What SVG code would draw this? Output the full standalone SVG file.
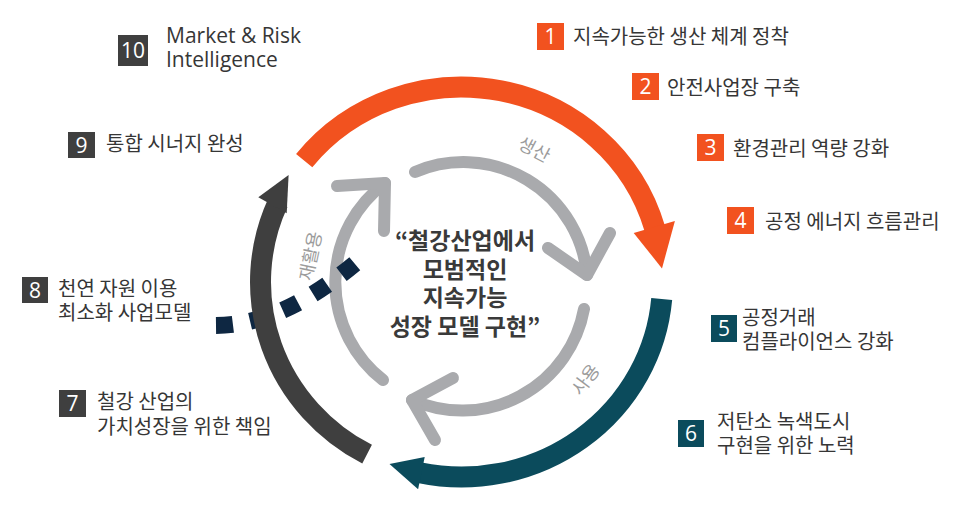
<svg xmlns="http://www.w3.org/2000/svg" width="960" height="509" viewBox="0 0 960 509">
<style>
.lbl{font-family:"Noto Sans CJK KR","Noto Sans",sans-serif;font-size:20px;fill:#363636}
.en{font-family:"Open Sans","Noto Sans",sans-serif;font-size:21px;fill:#363636}
.num{font-family:"Open Sans","Noto Sans",sans-serif;font-size:21px;fill:#ffffff;text-anchor:middle}
.bo{fill:#f2521f}.bt{fill:#0b4b5c}.bd{fill:#3f3f3f}
.ring{fill:none;stroke-width:21;stroke-linecap:butt}
.inner{fill:none;stroke:#a9aaad;stroke-width:12;stroke-linecap:round;stroke-linejoin:round}
.il{font-family:"Noto Sans CJK KR",sans-serif;font-size:18px;fill:#9c9c9c;text-anchor:middle}
.ctr{font-family:"Noto Sans CJK KR",sans-serif;font-size:23px;font-weight:bold;fill:#3a3a3a;text-anchor:middle}
</style>
<rect width="960" height="509" fill="#ffffff"/>

<g id="connectors">
  <g id="inner-cycle">
    <path class="inner" d="M415,172 A124,124 0 0 1 587,275"/>
    <polyline class="inner" points="548,248 587,275 610,233"/>
    <path class="inner" d="M584,309 A124,124 0 0 1 412,400"/>
    <polyline class="inner" points="453,378 412,400 435,440"/>
    <path class="inner" d="M383,380 A124,124 0 0 1 385,183"/>
    <polyline class="inner" points="337,186 385,183 384,231"/>
  </g>
  <path id="dotted" d="M216,325.5 C255,325 300,310 358,261" fill="none" stroke="#0e2742" stroke-width="17" stroke-dasharray="17 17.5"/>
  <g id="outer-cycle">
    <path class="ring" stroke="#f2521f" d="M304.2,160.6 A201,195 0 0 1 654.7,228.3"/>
    <polygon class="bo" points="633.7,232.9 674.9,220.9 662,268.4"/>
    <path class="ring" stroke="#0b4b5c" d="M661.7,299 A201,195 0 0 1 419.7,472.7"/>
    <polygon class="bt" points="424.7,456.9 418.1,489.3 389.5,464"/>
    <path class="ring" stroke="#3f3f3f" d="M367.1,454.2 A201,195 0 0 1 277.9,202.7"/>
    <polygon class="bd" points="258.3,197.3 286.7,213.3 288.6,175"/>
  </g>
</g>

<g id="cycle-labels">
  <text class="il" transform="translate(534,150) rotate(28)" y="6">생산</text>
  <text class="il" transform="translate(586,380) rotate(-53)" y="6">사용</text>
  <text class="il" transform="translate(311,256) rotate(-78)" y="6">재활용</text>
</g>

<g id="center">
  <text class="ctr" x="465" y="249">“철강산업에서</text>
  <text class="ctr" x="465" y="278">모범적인</text>
  <text class="ctr" x="465" y="306">지속가능</text>
  <text class="ctr" x="465" y="335">성장 모델 구현”</text>
</g>

<g id="item1">
  <rect class="bo" x="537" y="23" width="27" height="27"/>
  <text class="num" x="550.5" y="44">1</text>
  <text class="lbl" x="573" y="44">지속가능한 생산 체계 정착</text>
</g>
<g id="item2">
  <rect class="bo" x="632" y="73" width="27" height="27"/>
  <text class="num" x="645.5" y="94">2</text>
  <text class="lbl" x="667" y="95">안전사업장 구축</text>
</g>
<g id="item3">
  <rect class="bo" x="697" y="134" width="27" height="27"/>
  <text class="num" x="710.5" y="155">3</text>
  <text class="lbl" x="733" y="156">환경관리 역량 강화</text>
</g>
<g id="item4">
  <rect class="bo" x="727" y="207" width="27" height="27"/>
  <text class="num" x="740.5" y="228">4</text>
  <text class="lbl" x="765" y="229">공정 에너지 흐름관리</text>
</g>
<g id="item5">
  <rect class="bt" x="711" y="315" width="26" height="27"/>
  <text class="num" x="724" y="336">5</text>
  <text class="lbl" x="742" y="325">공정거래</text>
  <text class="lbl" x="742" y="349">컴플라이언스 강화</text>
</g>
<g id="item6">
  <rect class="bt" x="678" y="420" width="26" height="27"/>
  <text class="num" x="691" y="441">6</text>
  <text class="lbl" x="717" y="429">저탄소 녹색도시</text>
  <text class="lbl" x="717" y="453">구현을 위한 노력</text>
</g>
<g id="item7">
  <rect class="bd" x="59" y="390" width="27" height="27"/>
  <text class="num" x="72.5" y="411">7</text>
  <text class="lbl" x="97" y="409">철강 산업의</text>
  <text class="lbl" x="97" y="434">가치성장을 위한 책임</text>
</g>
<g id="item8">
  <rect class="bd" x="22" y="277" width="26" height="26"/>
  <text class="num" x="35" y="297.5">8</text>
  <text class="lbl" x="58" y="296">천연 자원 이용</text>
  <text class="lbl" x="58" y="320">최소화 사업모델</text>
</g>
<g id="item9">
  <rect class="bd" x="68" y="132" width="27" height="26"/>
  <text class="num" x="81.5" y="152.5">9</text>
  <text class="lbl" x="106" y="151">통합 시너지 완성</text>
</g>
<g id="item10">
  <rect class="bd" x="118" y="35" width="30" height="31"/>
  <text class="num" x="133" y="58">10</text>
  <text class="en" x="166" y="43">Market &amp; Risk</text>
  <text class="en" x="166" y="67">Intelligence</text>
</g>
</svg>
